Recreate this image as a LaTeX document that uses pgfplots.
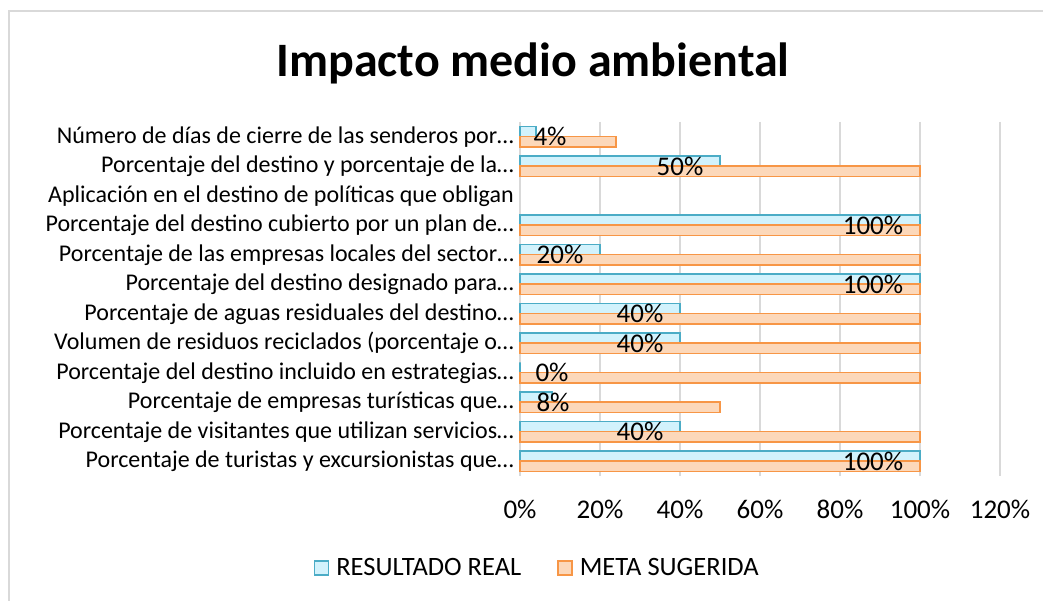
\documentclass[border=0pt]{standalone}
\usepackage{pgfplots}
\pgfplotsset{compat=1.18}
\usepackage{pgfplotstable}
\usepackage{fontspec}
\setmainfont{Carlito}
\definecolor{blueedge}{HTML}{4BACC6}
\definecolor{bluefill}{HTML}{D2F2FC}
\definecolor{orangeedge}{HTML}{F79646}
\definecolor{orangefill}{HTML}{FCD8BA}
\definecolor{gridc}{HTML}{D9D9D9}
\pgfplotstableread{
idx real meta lx
0 4 24 7.5
1 50 100 40
2 nan nan nan
3 100 100 88.25
4 20 100 10
5 100 100 88.25
6 40 100 30
7 40 100 30
8 0 100 8
9 8 50 8.25
10 40 100 30
11 100 100 88.25
}\datatable
\begin{document}
\begin{tikzpicture}[x=1pt,y=1pt]
\useasboundingbox (0,0) rectangle (1043,601);
\fill[white] (0,0) rectangle (1043,601);
\draw[gridc, line width=1.3pt] (9,-10) -- (9,590) -- (1060,590);
\node[font=\fontsize{48}{56}\selectfont\bfseries, anchor=base] at (533,601-77) {Impacto medio ambiental};
\begin{axis}[
  at={(520pt,125pt)}, anchor=south west,
  scale only axis, width=480pt, height=354pt,
  xmin=0, xmax=120, ymin=-0.5, ymax=11.5, y dir=reverse,
  xtick={0,20,...,120},
  xticklabel={\pgfmathprintnumber{\tick}\%},
  xticklabel style={font=\fontsize{27}{32}\selectfont, yshift=-21pt},
  ytick={0,...,11},
  yticklabels={
    Número de días de cierre de las senderos por…,
    Porcentaje del destino y porcentaje de la…,
    Aplicación en el destino de políticas que obligan\hspace{10pt},
    Porcentaje del destino cubierto por un plan de…,
    Porcentaje de las empresas locales del sector…,
    Porcentaje del destino designado para…,
    Porcentaje de aguas residuales del destino…,
    Volumen de residuos reciclados (porcentaje o…,
    Porcentaje del destino incluido en estrategias…,
    Porcentaje de empresas turísticas que…,
    Porcentaje de visitantes que utilizan servicios…,
    Porcentaje de turistas y excursionistas que…},
  yticklabel style={font=\fontsize{24}{28}\selectfont, anchor=east, inner sep=0pt, xshift=-6pt},
  /pgf/number format/assume math mode=true,
  major tick length=0pt,
  axis line style={draw=none},
  xmajorgrids, major grid style={gridc, line width=1.3pt},
  legend columns=2,
  legend style={at={(axis description cs:0.036,-0.26)}, anchor=center, draw=none, fill=none,
    font=\fontsize{26.5}{30}\selectfont, column sep=0pt,
    /tikz/every odd column/.append style={column sep=5pt},
    /tikz/every even column/.append style={column sep=34pt}},
  legend cell align=left,
  legend image code/.code={\draw[#1, line width=1.5pt] (0pt,-7pt) rectangle (14pt,7pt);},
  clip=false,
]
\addplot[xbar, bar width=10.5pt, bar shift=5pt, draw=blueedge, fill=bluefill, line width=1.5pt]
  table[x=real, y=idx] {\datatable};
\addlegendentry{RESULTADO REAL}
\addplot[xbar, bar width=10.5pt, bar shift=-5pt, draw=orangeedge, fill=orangefill, line width=1.5pt]
  table[x=meta, y=idx] {\datatable};
\addlegendentry{META SUGERIDA}
\addplot[draw=none, mark=none, forget plot, point meta=explicit,
  nodes near coords={\pgfmathprintnumber{\pgfplotspointmeta}\%},
  nodes near coords style={font=\fontsize{27}{32}\selectfont, anchor=center, inner sep=0pt, text=black}]
  table[x=lx, y=idx, meta=real] {\datatable};
\end{axis}
\end{tikzpicture}
\end{document}
